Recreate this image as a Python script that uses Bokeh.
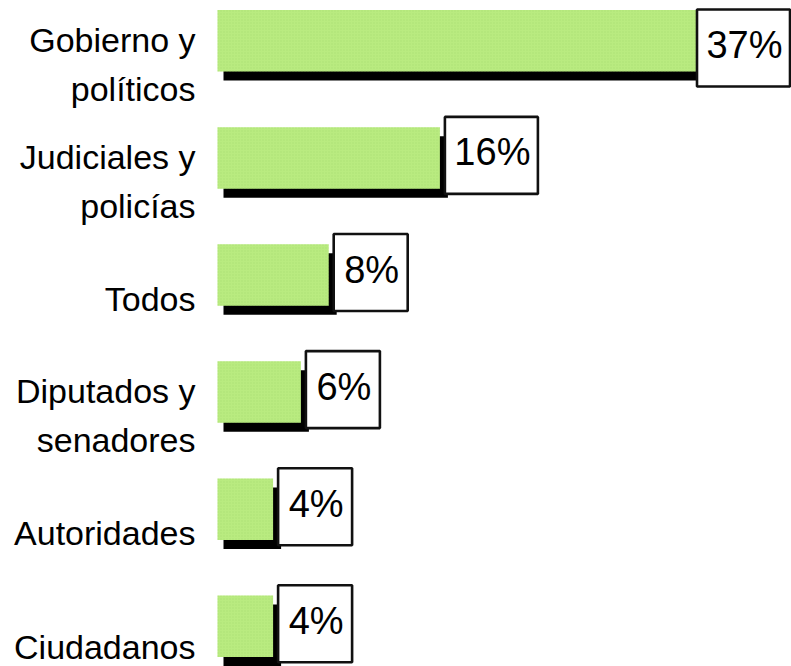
from bokeh.plotting import figure
from bokeh.models import Range1d, ColumnDataSource
from bokeh.embed import file_html
from bokeh.resources import INLINE
from bokeh.core.properties import value

# Survey answers: who is responsible
categories = [
    "Gobierno y\npolíticos",
    "Judiciales y\npolicías",
    "Todos",
    "Diputados y\nsenadores",
    "Autoridades",
    "Ciudadanos",
]
percent = [37, 16, 8, 6, 4, 4]
value_labels = [f"{v}%" for v in percent]

# Canvas geometry (pixels)
W, H = 791, 666
PX_PER_PCT = 13.9      # horizontal scale
AXIS_PX = 217          # where 0 % sits
TOP_PX = 40.3          # centre of the first band
BAND_PX = 117.1        # distance between bands
BAR_PX = 61.5          # bar thickness

FONT = "Liberation Sans"
GREEN = "#b9eb80"


def dx(px):
    return px / PX_PER_PCT


def dy(px):
    return px / BAND_PX


n = len(categories)
ys = list(range(n))

p = figure(
    width=W, height=H,
    x_range=Range1d(-AXIS_PX / PX_PER_PCT, (W - AXIS_PX) / PX_PER_PCT),
    y_range=Range1d((H - TOP_PX) / BAND_PX, -TOP_PX / BAND_PX),
    x_axis_location=None, y_axis_location=None,
    output_backend="svg", toolbar_location=None,
    min_border=0,
)
p.grid.visible = False
p.outline_line_color = None
p.background_fill_color = "white"
p.border_fill_color = "white"

# drop shadows behind the bars
half = BAR_PX / 2
p.quad(
    left=[dx(6)] * n,
    right=[v + dx(8) for v in percent],
    top=[y - dy(half) + dy(9) for y in ys],
    bottom=[y + dy(half) + dy(9) for y in ys],
    fill_color="black", line_color=None,
)

# bars
p.hbar(
    y=ys, left=0, right=percent, height=dy(BAR_PX),
    fill_color=GREEN, line_color=None,
    hatch_pattern="dot", hatch_color="#a3d86a", hatch_scale=3,
    hatch_weight=1, hatch_alpha=0.55,
)

# value boxes at bar ends (kept inside the canvas)
bl, br, bt, bb, tx, tyo = [], [], [], [], [], []
for i, (v, lab) in enumerate(zip(percent, value_labels)):
    center_px = TOP_PX + BAND_PX * i
    shift = max(0.0, 9 - (center_px - 41))
    w_px = 36 + 19 * len(lab)
    left_px = AXIS_PX + v * PX_PER_PCT + 5
    left_px = min(left_px, W - 1.5 - w_px)
    left = (left_px - AXIS_PX) / PX_PER_PCT
    bl.append(left)
    br.append(left + dx(w_px))
    bt.append(i + dy(-41 + shift))
    bb.append(i + dy(36 + shift))
    tx.append(left + dx(w_px / 2 + 1))
    tyo.append(-5.5 + shift)

p.quad(left=bl, right=br, top=bt, bottom=bb,
       fill_color="white", line_color="#111111", line_width=2.6)

p.text(
    source=ColumnDataSource(dict(x=tx, y=ys, t=value_labels, yo=tyo)),
    x="x", y="y", text="t", y_offset="yo",
    text_align="center", text_baseline="alphabetic",
    text_font=value(FONT), text_font_size="38px", text_color="black",
)

# category names, right-aligned left of the bars
cx, cy, ct, co = [], [], [], []
LINE_PX = 48.4
for i, cat in enumerate(categories):
    lines = cat.split("\n")
    m = len(lines)
    center_px = TOP_PX + BAND_PX * i
    for k, line in enumerate(lines):
        off = 23.5 + (k - (m - 1) / 2) * LINE_PX
        off = min(off, H - 20 - center_px)   # keep the last line on the canvas
        cx.append(0)
        cy.append(i)
        ct.append(line)
        co.append(off)

p.text(
    source=ColumnDataSource(dict(x=cx, y=cy, t=ct, yo=co)),
    x="x", y="y", text="t", y_offset="yo", x_offset=-22,
    text_align="right", text_baseline="alphabetic",
    text_font=value(FONT), text_font_size="34px", text_color="black",
)

open("out.html", "w").write(file_html(p, INLINE))
